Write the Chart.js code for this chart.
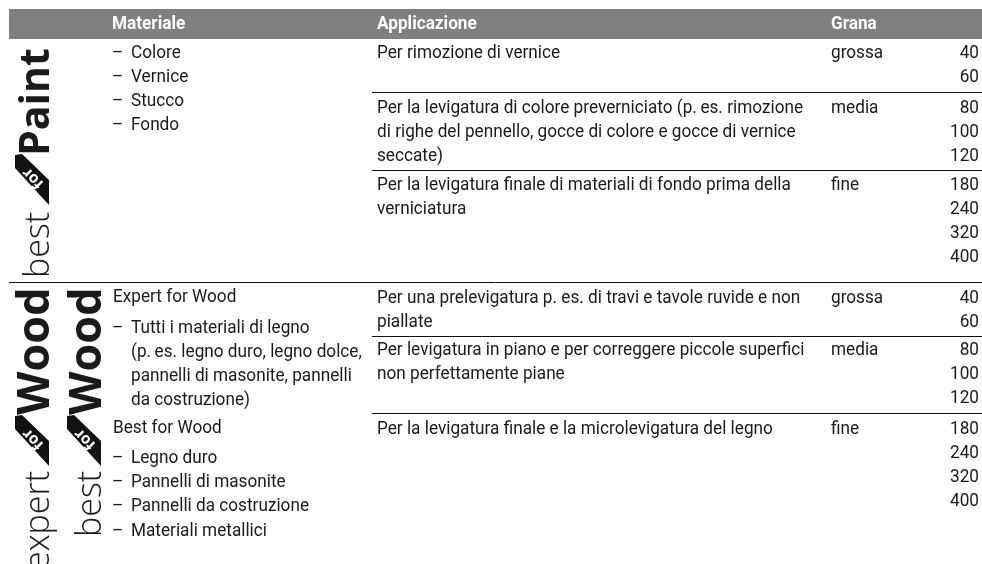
<!DOCTYPE html>
<html>
<head>
<meta charset="utf-8">
<style>
  html, body { margin: 0; padding: 0; background: #fff; }
  #wrap { position: relative; width: 982px; height: 564px; overflow: hidden; }
</style>
<script src="https://cdn.jsdelivr.net/npm/chart.js@4"></script>
</head>
<body>
<div id="wrap"><canvas id="table-chart" width="982" height="564"></canvas></div>
<script>
// Table page from a manual: no plotted values, so the chart is a pixel-scaled
// scatter whose datasets carry the band, rules and flags; a plugin writes the text.
const headers = ["Materiale", "Applicazione", "Grana"];

const paintMaterials = ["Colore", "Vernice", "Stucco", "Fondo"];
const expertTitle = "Expert for Wood";
const expertMaterials = ["Tutti i materiali di legno"];
const expertNote = ["(p.\u2009es. legno duro, legno dolce,", "pannelli di masonite, pannelli", "da costruzione)"];
const bestTitle = "Best for Wood";
const bestMaterials = ["Legno duro", "Pannelli di masonite", "Pannelli da costruzione", "Materiali metallici"];

const applications = [
  ["Per rimozione di vernice"],
  ["Per la levigatura di colore preverniciato (p.\u2009es. rimozione", "di righe del pennello, gocce di colore e gocce di vernice", "seccate)"],
  ["Per la levigatura finale di materiali di fondo prima della", "verniciatura"],
  ["Per una prelevigatura p. es. di travi e tavole ruvide e non", "piallate"],
  ["Per levigatura in piano e per correggere piccole superfici", "non perfettamente piane"],
  ["Per la levigatura finale e la microlevigatura del legno"],
];
const grainNames = ["grossa", "media", "fine", "grossa", "media", "fine"];
const grainSizes = [[40, 60], [80, 100, 120], [180, 240, 320, 400], [40, 60], [80, 100, 120], [180, 240, 320, 400]];

const logos = [
  { light: "best", bold: "Paint", base: 49, lightY: 278, boldY: 156, flagY: 154, flagX: 0 },
  { light: "expert", bold: "Wood", base: 49, lightY: 570, boldY: 415, flagY: 415, flagX: 0 },
  { light: "best", bold: "Wood", base: 101, lightY: 537, boldY: 415, flagY: 415, flagX: 52 },
];

const FONT = "Roboto";
const SQUEEZE = 0.955;
const LINE = 24.2;
const rowTop = [53, 108, 185, 298, 350.5, 429];

const flagData = (l) => [
  { x: 22 + l.flagX, y: l.flagY },
  { x: 15 + l.flagX, y: l.flagY + 1 },
  { x: 15 + l.flagX, y: l.flagY + 14 },
  { x: 49 + l.flagX, y: l.flagY + 51 },
  { x: 49 + l.flagX, y: l.flagY + 26 },
  { x: 22 + l.flagX, y: l.flagY },
];

const tablePlugin = {
  id: "tableText",
  afterDatasetsDraw(chart) {
    const { ctx, scales: { x, y } } = chart;
    const put = (s, px, py, align = "left", font = `18px ${FONT}`, color = "#1a1a1a") => {
      ctx.save();
      ctx.translate(x.getPixelForValue(px), y.getPixelForValue(py));
      ctx.scale(SQUEEZE, 1);
      ctx.font = font;
      ctx.fillStyle = color;
      ctx.textAlign = align;
      ctx.textBaseline = "middle";
      ctx.fillText(s, 0, 0);
      ctx.restore();
    };
    const turned = (s, px, py, angle, font, color = "#1a1a1a", align = "left", baseline = "alphabetic") => {
      ctx.save();
      ctx.translate(x.getPixelForValue(px), y.getPixelForValue(py));
      ctx.rotate(angle);
      ctx.font = font;
      ctx.fillStyle = color;
      ctx.textAlign = align;
      ctx.textBaseline = baseline;
      ctx.fillText(s, 0, 0);
      ctx.restore();
    };

    const bold = `bold 18px ${FONT}`;
    put(headers[0], 112, 24, "left", bold, "#fff");
    put(headers[1], 377, 24, "left", bold, "#fff");
    put(headers[2], 831, 24, "left", bold, "#fff");

    const bullets = (list, top) => list.forEach((s, i) => {
      put("–", 112, top + i * LINE);
      put(s, 131, top + i * LINE);
    });
    bullets(paintMaterials, 53);
    put(expertTitle, 113, 297.5);
    bullets(expertMaterials, 328);
    expertNote.forEach((s, i) => put(s, 131, 352 + i * 24));
    put(bestTitle, 113, 428);
    bullets(bestMaterials, 458.5);

    applications.forEach((lines, r) => {
      lines.forEach((s, i) => put(s, 377, rowTop[r] + i * LINE));
      put(grainNames[r], 831, rowTop[r]);
      grainSizes[r].forEach((g, i) => put(String(g), 979, rowTop[r] + i * LINE, "right"));
    });

    logos.forEach((l) => {
      turned(l.light, l.base, l.lightY, -Math.PI / 2, `300 34px "Open Sans"`);
      turned(l.bold, l.base, l.boldY, -Math.PI / 2, `bold ${l.bold === "Paint" ? 41 : 45}px "Open Sans"`);
      turned("for", 33 + l.flagX, l.flagY + 24, -Math.PI * 0.75, `bold 15.5px "Open Sans"`, "#fff", "center", "middle");
    });
  },
};

const rule = (x0, yy) => ({
  data: [{ x: x0, y: yy }, { x: 982, y: yy }],
  showLine: true, borderColor: "#111", borderWidth: 1, pointRadius: 0,
});
const flag = (l) => ({
  data: flagData(l),
  showLine: true, fill: "shape", tension: 0, borderColor: "#111", backgroundColor: "#111",
  borderWidth: 0, pointRadius: 0,
});

new Chart(document.getElementById("table-chart"), {
  type: "scatter",
  data: {
    datasets: [
      { data: [{ x: 9, y: 24 }, { x: 982, y: 24 }], showLine: true, borderColor: "#808080", borderWidth: 30, pointRadius: 0 },
      rule(372, 92.5), rule(372, 170.5), rule(9, 282.5), rule(372, 336.5), rule(372, 413.5),
      ...logos.map(flag),
    ],
  },
  options: {
    responsive: false,
    animation: false,
    layout: { padding: 0 },
    plugins: { legend: { display: false }, tooltip: { enabled: false } },
    scales: {
      x: { display: false, min: 0, max: 982 },
      y: { display: false, min: 0, max: 564, reverse: true },
    },
  },
  plugins: [tablePlugin],
});
</script>
</body>
</html>
